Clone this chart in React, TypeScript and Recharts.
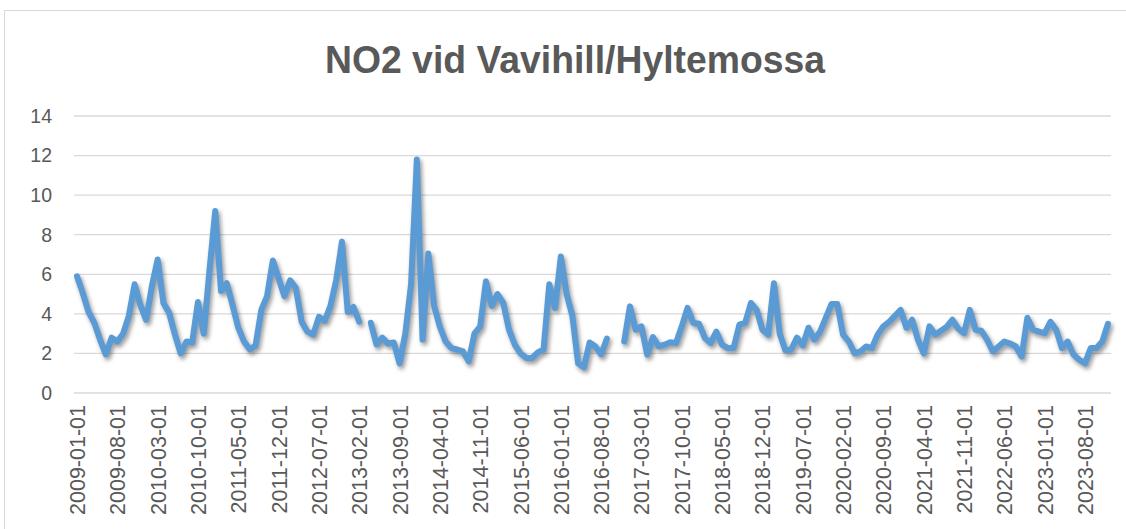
import React from "react";
import { LineChart, Line, XAxis, YAxis, CartesianGrid } from "recharts";

// monthly NO2 means, one array per year (null = no measurement)
const no2_2009 = [5.9, 5.05, 4.1, 3.55, 2.7, 1.95, 2.8, 2.6, 3.0, 3.9, 5.5, 4.45];
const no2_2010 = [3.7, 5.4, 6.75, 4.55, 4.05, 2.95, 2.0, 2.6, 2.55, 4.6, 3.0, 6.2];
const no2_2011 = [9.2, 5.15, 5.55, 4.45, 3.3, 2.6, 2.2, 2.4, 4.2, 4.9, 6.7, 5.8];
const no2_2012 = [4.9, 5.7, 5.3, 3.6, 3.1, 2.95, 3.85, 3.65, 4.4, 5.7, 7.65, 4.1];
const no2_2013 = [4.35, 3.6, null, 3.55, 2.45, 2.8, 2.5, 2.55, 1.5, 3.0, 5.5, 11.8];
const no2_2014 = [2.7, 7.05, 4.4, 3.35, 2.6, 2.27, 2.2, 2.1, 1.6, 3.0, 3.37, 5.65];
const no2_2015 = [4.4, 5.0, 4.55, 3.2, 2.45, 2.0, 1.77, 1.77, 2.05, 2.2, 5.5, 4.3];
const no2_2016 = [6.9, 5.0, 3.9, 1.5, 1.3, 2.55, 2.35, 1.95, 2.75, null, null, 2.6];
const no2_2017 = [4.38, 3.2, 3.37, 1.94, 2.83, 2.36, 2.44, 2.56, 2.53, 3.37, 4.3, 3.54];
const no2_2018 = [3.5, 2.78, 2.53, 3.1, 2.44, 2.27, 2.27, 3.45, 3.54, 4.55, 4.2, 3.2];
const no2_2019 = [2.95, 5.55, 3.0, 2.15, 2.2, 2.8, 2.4, 3.3, 2.7, 3.1, 3.8, 4.5];
const no2_2020 = [4.5, 2.95, 2.6, 2.0, 2.1, 2.35, 2.27, 2.95, 3.37, 3.6, 3.9, 4.2];
const no2_2021 = [3.3, 3.7, 2.7, 2.0, 3.37, 2.95, 3.15, 3.35, 3.7, 3.25, 3.03, 4.2];
const no2_2022 = [3.2, 3.15, 2.7, 2.1, 2.35, 2.6, 2.5, 2.35, 1.85, 3.8, 3.2, 3.1];
const no2_2023 = [3.03, 3.6, 3.2, 2.27, 2.6, 1.94, 1.68, 1.5, 2.27, 2.27, 2.6, 3.5];

const YEARS = [2009, 2010, 2011, 2012, 2013, 2014, 2015, 2016, 2017, 2018, 2019, 2020, 2021, 2022, 2023];
const SERIES = [
  no2_2009, no2_2010, no2_2011, no2_2012, no2_2013, no2_2014, no2_2015, no2_2016,
  no2_2017, no2_2018, no2_2019, no2_2020, no2_2021, no2_2022, no2_2023,
];
const Y_TICKS = [0, 2, 4, 6, 8, 10, 12, 14];

const data = YEARS.flatMap((year, k) =>
  SERIES[k].map((v, m) => ({
    month: `${year}-${String(m + 1).padStart(2, "0")}-01`,
    no2: v,
  }))
);

const TEXT = "#595959";
const FONT = "'Liberation Sans', Arial, sans-serif";

const MonthTick = ({ x, y, payload }: any) => (
  <text
    x={x + 1}
    y={y}
    transform={`rotate(-90 ${x + 1} ${y})`}
    textAnchor="end"
    dominantBaseline="central"
    fill={TEXT}
    fontSize={21.5}
    fontFamily={FONT}
  >
    {payload.value}
  </text>
);

export default function App() {
  return (
    <div
      style={{
        position: "absolute",
        left: 0,
        top: 0,
        width: 1126,
        height: 529,
        overflow: "hidden",
        background: "#fff",
      }}
    >
      <style>{`.recharts-line-curve { filter: drop-shadow(2px 3px 2px rgba(0,0,0,0.4)); }`}</style>
      <div
        style={{
          position: "absolute",
          left: 4,
          top: 10,
          width: 1140,
          height: 540,
          border: "1px solid #D9D9D9",
        }}
      />
      {/* title, stretched to the width of the original Calibri heading */}
      <svg width={1126} height={100} style={{ position: "absolute", left: 0, top: 0 }}>
        <text
          x={575}
          y={73}
          textAnchor="middle"
          textLength={500}
          lengthAdjust="spacingAndGlyphs"
          fill={TEXT}
          fontSize={38}
          fontWeight={700}
          fontFamily="'Liberation Sans Narrow', 'Liberation Sans', sans-serif"
        >
          NO2 vid Vavihill/Hyltemossa
        </text>
      </svg>
      <div style={{ position: "absolute", left: 0, top: 0 }}>
        <LineChart
          width={1126}
          height={529}
          data={data}
          margin={{ top: 116, right: 15, bottom: 0, left: 0 }}
        >
          <CartesianGrid vertical={false} stroke="#D9D9D9" strokeWidth={1.3} />
          <XAxis
            dataKey="month"
            interval={6}
            axisLine={false}
            tickLine={false}
            tickSize={0}
            tickMargin={12}
            height={136}
            padding={{ left: 3, right: 3 }}
            tick={<MonthTick />}
          />
          <YAxis
            domain={[0, 14]}
            ticks={Y_TICKS}
            width={74}
            axisLine={false}
            tickLine={false}
            tickSize={0}
            tickMargin={22}
            tick={{ fill: TEXT, fontSize: 19.5, fontFamily: FONT }}
          />
          <Line
            type="linear"
            dataKey="no2"
            stroke="#5B9BD5"
            strokeWidth={6}
            strokeLinejoin="round"
            strokeLinecap="round"
            dot={false}
            activeDot={false}
            connectNulls={false}
            isAnimationActive={false}
          />
        </LineChart>
      </div>
    </div>
  );
}
